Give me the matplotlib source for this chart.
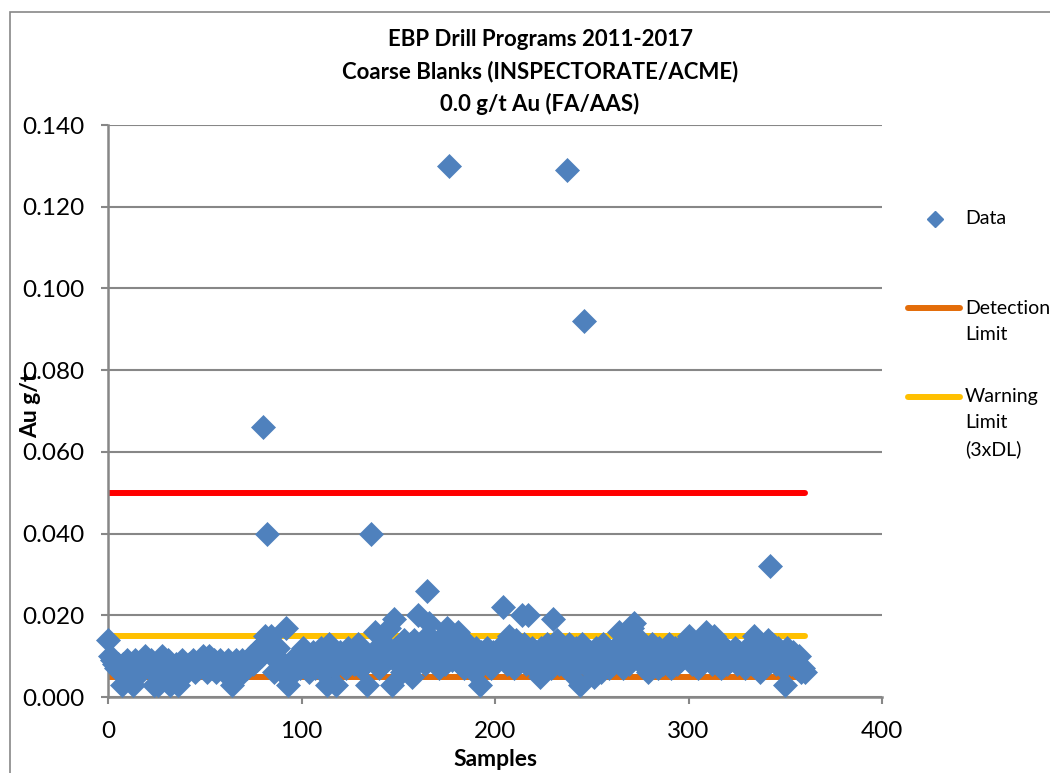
import matplotlib
matplotlib.use("Agg")
import matplotlib.pyplot as plt
from matplotlib.lines import Line2D
from matplotlib.patches import Rectangle

# ---- data ----
au_values = [
    0.014, 0.010, 0.009, 0.008, 0.007, 0.008, 0.006, 0.003, 0.008, 0.007,
    0.009, 0.006, 0.008, 0.003, 0.009, 0.007, 0.008, 0.006, 0.009, 0.010,
    0.008, 0.007, 0.009, 0.006, 0.003, 0.008, 0.003, 0.007, 0.010, 0.008,
    0.006, 0.009, 0.003, 0.007, 0.004, 0.008, 0.003, 0.006, 0.009, 0.008,
    0.007, 0.006, 0.008, 0.007, 0.009, 0.006, 0.008, 0.007, 0.009, 0.010,
    0.008, 0.006, 0.010, 0.008, 0.007, 0.009, 0.006, 0.008, 0.009, 0.007,
    0.006, 0.008, 0.009, 0.007, 0.003, 0.006, 0.009, 0.008, 0.007, 0.009,
    0.006, 0.008, 0.007, 0.009, 0.010, 0.008, 0.011, 0.009, 0.012, 0.010,
    0.066, 0.015, 0.040, 0.013, 0.015, 0.011, 0.006, 0.009, 0.012, 0.007,
    0.006, 0.008, 0.017, 0.003, 0.007, 0.009, 0.006, 0.008, 0.010, 0.007,
    0.009, 0.012, 0.008, 0.010, 0.006, 0.009, 0.011, 0.007, 0.010, 0.008,
    0.012, 0.006, 0.009, 0.003, 0.013, 0.008, 0.010, 0.007, 0.003, 0.009,
    0.011, 0.008, 0.010, 0.007, 0.012, 0.009, 0.011, 0.008, 0.010, 0.013,
    0.009, 0.007, 0.011, 0.008, 0.003, 0.010, 0.040, 0.009, 0.016, 0.012,
    0.007, 0.011, 0.008, 0.013, 0.009, 0.017, 0.010, 0.003, 0.019, 0.012,
    0.008, 0.010, 0.006, 0.014, 0.009, 0.011, 0.013, 0.005, 0.014, 0.008,
    0.020, 0.012, 0.010, 0.014, 0.008, 0.026, 0.018, 0.011, 0.014, 0.009,
    0.012, 0.007, 0.010, 0.015, 0.008, 0.017, 0.130, 0.012, 0.009, 0.014,
    0.011, 0.016, 0.008, 0.012, 0.007, 0.011, 0.013, 0.009, 0.010, 0.006,
    0.012, 0.009, 0.003, 0.011, 0.008, 0.010, 0.012, 0.009, 0.007, 0.011,
    0.010, 0.009, 0.012, 0.010, 0.022, 0.013, 0.008, 0.015, 0.010, 0.012,
    0.007, 0.014, 0.009, 0.011, 0.020, 0.013, 0.008, 0.020, 0.010, 0.012,
    0.007, 0.011, 0.009, 0.005, 0.012, 0.008, 0.010, 0.013, 0.009, 0.007,
    0.019, 0.011, 0.014, 0.008, 0.012, 0.010, 0.009, 0.129, 0.013, 0.006,
    0.011, 0.009, 0.012, 0.008, 0.003, 0.013, 0.092, 0.010, 0.007, 0.011,
    0.009, 0.005, 0.012, 0.008, 0.010, 0.006, 0.013, 0.009, 0.011, 0.007,
    0.010, 0.008, 0.012, 0.010, 0.016, 0.009, 0.007, 0.011, 0.013, 0.008,
    0.010, 0.017, 0.018, 0.012, 0.009, 0.014, 0.011, 0.008, 0.012, 0.006,
    0.010, 0.013, 0.009, 0.011, 0.007, 0.012, 0.010, 0.008, 0.011, 0.009,
    0.013, 0.007, 0.010, 0.012, 0.008, 0.011, 0.009, 0.013, 0.010, 0.014,
    0.015, 0.011, 0.008, 0.012, 0.010, 0.007, 0.013, 0.009, 0.011, 0.016,
    0.010, 0.012, 0.008, 0.015, 0.011, 0.009, 0.013, 0.007, 0.010, 0.012,
    0.008, 0.011, 0.009, 0.010, 0.012, 0.008, 0.011, 0.009, 0.010, 0.007,
    0.012, 0.009, 0.011, 0.008, 0.015, 0.013, 0.010, 0.006, 0.012, 0.009,
    0.011, 0.014, 0.032, 0.013, 0.010, 0.008, 0.012, 0.009, 0.011, 0.007,
    0.003, 0.012, 0.010, 0.008, 0.011, 0.009, 0.007, 0.010, 0.006, 0.007,
    0.006,
]
samples = list(range(len(au_values)))

limit_x = [0, 360]
detection_limit = [0.005, 0.005]
warning_limit = [0.015, 0.015]
failure_limit = [0.050, 0.050]

title_lines = ["EBP Drill Programs 2011-2017",
               "Coarse Blanks (INSPECTORATE/ACME)",
               "0.0 g/t Au (FA/AAS)"]
y_ticks = [0.0, 0.02, 0.04, 0.06, 0.08, 0.10, 0.12, 0.14]
x_ticks = [0, 100, 200, 300, 400]

# ---- styles ----
BLUE = "#4F81BD"
ORANGE = "#E36C09"
YELLOW = "#FFC000"
RED = "#FF0000"
GRID = "#878787"
FONT = "Lato"

plt.rcParams["font.family"] = [FONT, "DejaVu Sans"]

W, H = 1050, 773
fig = plt.figure(figsize=(W / 100, H / 100), dpi=100)
ax = fig.add_axes([108 / W, 1 - 697 / H, (882 - 108) / W, (697 - 125) / H])

ax.plot(limit_x, failure_limit, color=RED, lw=4.3, solid_capstyle="round", zorder=2)
ax.plot(limit_x, detection_limit, color=ORANGE, lw=4.3, solid_capstyle="round", zorder=2)
ax.plot(limit_x, warning_limit, color=YELLOW, lw=4.3, solid_capstyle="round", zorder=2)
ax.plot(samples, au_values, linestyle="none", marker="D", markersize=12,
        color=BLUE, markeredgecolor=BLUE, markeredgewidth=0.5, zorder=3,
        clip_on=False)

ax.set_xlim(0, 400)
ax.set_ylim(0, 0.14)
ax.set_yticks(y_ticks)
ax.set_yticklabels([f"{v:.3f}" for v in y_ticks])
ax.set_xticks(x_ticks)
ax.tick_params(axis="both", labelsize=17.5, color=GRID, length=5, width=1.5)
ax.tick_params(axis="y", pad=12)
ax.tick_params(axis="x", pad=12)
ax.grid(axis="y", color=GRID, lw=1.5)
ax.set_axisbelow(True)
for s in ["top", "right"]:
    ax.spines[s].set_visible(False)
for s in ["left", "bottom"]:
    ax.spines[s].set_color(GRID)
    ax.spines[s].set_linewidth(1.8)

fig.text(495 / W, 1 - 760 / H, "Samples", fontsize=16.5, fontweight="bold",
         ha="center", va="center")
fig.text(31 / W, 1 - 405 / H, "Au g/t", rotation=90, fontsize=16.5,
         fontweight="bold", ha="center", va="center")

for i, line in enumerate(title_lines):
    fig.text(540 / W, 1 - (40 + 32 * i) / H, line, fontsize=16,
             fontweight="bold", ha="center", va="center")

# legend
fig.add_artist(Line2D([935 / W], [1 - 219 / H], marker="D", markersize=8,
                      color=BLUE, linestyle="none"))
fig.text(965 / W, 1 - 219 / H, "Data", fontsize=14, va="center")
fig.add_artist(Line2D([908 / W, 960 / W], [1 - 308 / H] * 2, color=ORANGE,
                      lw=4.3, solid_capstyle="round"))
fig.text(965 / W, 1 - 308 / H, "Detection", fontsize=14, va="center")
fig.text(965 / W, 1 - 335 / H, "Limit", fontsize=14, va="center")
fig.add_artist(Line2D([908 / W, 960 / W], [1 - 397 / H] * 2, color=YELLOW,
                      lw=4.3, solid_capstyle="round"))
fig.text(965 / W, 1 - 397 / H, "Warning", fontsize=14, va="center")
fig.text(965 / W, 1 - 423 / H, "Limit", fontsize=14, va="center")
fig.text(965 / W, 1 - 449 / H, "(3xDL)", fontsize=14, va="center")

# outer chart border
fig.add_artist(Rectangle((10 / W, -0.05), 1.1, 1 - 12 / H + 0.05,
                         transform=fig.transFigure, fill=False,
                         edgecolor=GRID, lw=1.2))

fig.savefig("out.png", dpi=100)
